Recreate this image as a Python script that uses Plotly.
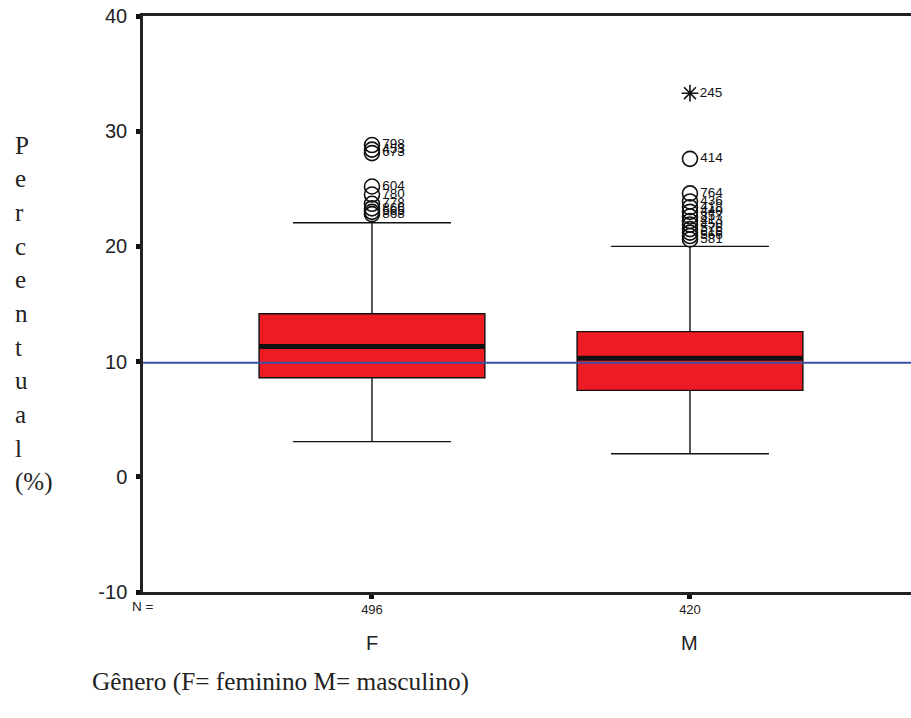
import plotly.graph_objects as go

groups = ["F", "M"]
counts = [496, 420]
xpos = [0, 1]
q1 = [8.6, 7.5]
median = [11.3, 10.3]
q3 = [14.15, 12.6]
lower = [3.05, 2.0]
upper = [22.05, 20.0]
ref_line = 9.9
y_ticks = [-10, 0, 10, 20, 30, 40]
y_ticktext = ["-10", "0", "10", "20", "30", "40"]

f_out_vals = [28.8, 28.4, 28.1, 25.2, 24.5, 23.7, 23.3, 23.0, 22.8]
f_out_ids = ["798", "453", "673", "604", "780", "778", "866", "565", "868"]
m_out_vals = [27.6, 24.6, 23.9, 23.4, 23.0, 22.6, 22.2, 21.9, 21.5, 21.2, 20.9, 20.6]
m_out_ids = ["414", "764", "436", "418", "440", "857", "413", "450", "576", "616", "566", "581"]
m_extreme_vals = [33.3]
m_extreme_ids = ["245"]

box_w = 0.71
fig = go.Figure()
for i in range(2):
    fig.add_trace(go.Box(
        x=[xpos[i]], q1=[q1[i]], median=[median[i]], q3=[q3[i]],
        lowerfence=[lower[i]], upperfence=[upper[i]],
        width=box_w, whiskerwidth=0.7, boxpoints=False,
        fillcolor="#ED1C24", line=dict(color="#111111", width=1.4),
        showlegend=False, hoverinfo="skip"))
    fig.add_trace(go.Scatter(
        x=[xpos[i] - box_w / 2, xpos[i] + box_w / 2], y=[median[i], median[i]],
        mode="lines", line=dict(color="#111111", width=5), showlegend=False))

lab_font = dict(family="Liberation Sans, Arial", size=13.5, color="#111111")
mk = dict(symbol="circle-open", size=15, color="#111111", line=dict(width=1.6))
fig.add_trace(go.Scatter(
    x=[xpos[0]] * len(f_out_vals), y=f_out_vals, mode="markers+text",
    text=f_out_ids, textposition="middle right", textfont=lab_font,
    marker=mk, showlegend=False))
fig.add_trace(go.Scatter(
    x=[xpos[1]] * len(m_out_vals), y=m_out_vals, mode="markers+text",
    text=m_out_ids, textposition="middle right", textfont=lab_font,
    marker=mk, showlegend=False))
fig.add_trace(go.Scatter(
    x=[xpos[1]] * len(m_extreme_vals), y=m_extreme_vals, mode="markers+text",
    text=m_extreme_ids, textposition="middle right", textfont=lab_font,
    marker=dict(symbol="asterisk-open", size=14, color="#111111", line=dict(width=1.6)),
    showlegend=False))

fig.add_shape(type="line", xref="paper", x0=0, x1=1, y0=ref_line, y1=ref_line,
              line=dict(color="#3B4FA3", width=2), layer="above")

fig.update_layout(
    width=911, height=718,
    margin=dict(l=143, r=0, t=16, b=126),
    paper_bgcolor="white", plot_bgcolor="white",
    font=dict(family="Liberation Sans, Arial", color="#222222"),
    xaxis=dict(range=[-0.72, 1.695], tickvals=xpos, ticktext=[str(c) for c in counts],
               tickfont=dict(size=13), showgrid=False, zeroline=False,
               showline=True, linecolor="#222222", linewidth=2.5, mirror=True,
               ticks="outside", ticklen=4, tickwidth=5, tickcolor="#111111",
               ticklabelstandoff=0),
    yaxis=dict(range=[-10, 40], tickvals=y_ticks, ticktext=y_ticktext,
               tickfont=dict(size=20), showgrid=False, zeroline=False,
               showline=True, linecolor="#222222", linewidth=2.5,
               ticks="outside", ticklen=4, tickwidth=5, tickcolor="#111111",
               ticklabelstandoff=5),
)

PL, PT, PW, PH = 143, 16, 768, 576  # plot area in window pixels


def px(xw):
    return (xw - PL) / PW


def py(yw):
    return (PT + PH - yw) / PH


fig.add_annotation(text="N =", xref="paper", yref="paper", x=px(143), y=py(606),
                   xanchor="center", yanchor="middle", showarrow=False,
                   font=dict(size=13.5, color="#222222"))
for i in range(2):
    fig.add_annotation(text=groups[i], xref="x", yref="paper", x=xpos[i], y=py(643),
                       xanchor="center", yanchor="middle", showarrow=False,
                       font=dict(size=20, color="#222222"))

letters = ["P", "e", "r", "c", "e", "n", "t", "u", "a", "l", "(%)"]
for k, ch in enumerate(letters):
    ypix = 145 + k * 33.7
    fig.add_annotation(text=ch, xref="paper", yref="paper",
                       x=px(13), y=py(ypix), xanchor="left", yanchor="middle",
                       showarrow=False,
                       font=dict(family="Liberation Serif, Times New Roman", size=25, color="#222222"))
fig.add_annotation(text="Gênero (F= feminino M= masculino)", xref="paper", yref="paper",
                   x=px(90), y=py(681), xanchor="left", yanchor="middle",
                   showarrow=False,
                   font=dict(family="Liberation Serif, Times New Roman", size=25.3, color="#222222"))

fig.write_html("out.html", config={"displayModeBar": False},
               post_script="document.body.style.margin='0';document.body.style.overflow='hidden';")
